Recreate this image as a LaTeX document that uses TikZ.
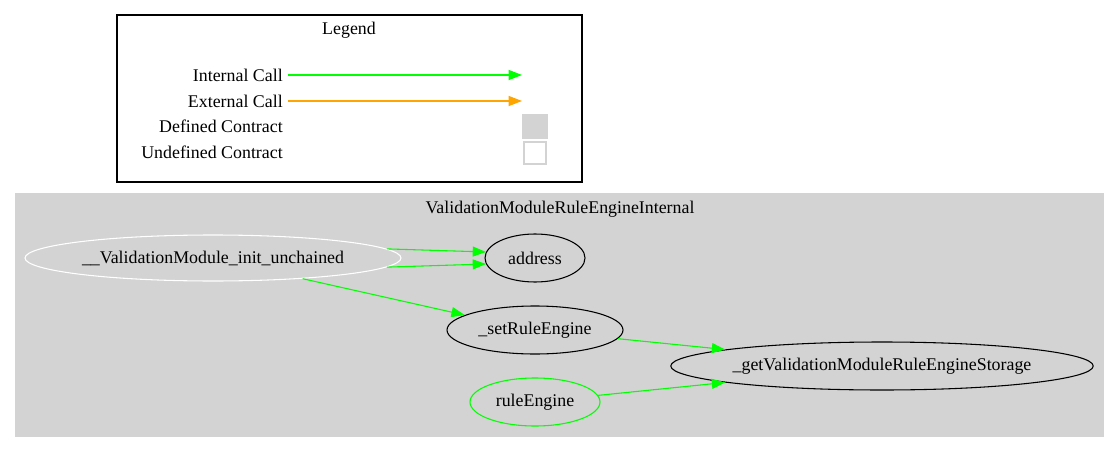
\documentclass[tikz,border=0pt]{standalone}
\usepackage{fontspec}
\setmainfont{Liberation Serif}
\usetikzlibrary{shapes.geometric,arrows.meta}
\definecolor{callgreen}{HTML}{00FF00}
\definecolor{callorange}{HTML}{FFA500}
\definecolor{clustergray}{HTML}{D3D3D3}
\begin{document}
\begin{tikzpicture}[x=0.75pt,y=-0.75pt,
  every node/.style={font=\fontsize{13.4}{16}\selectfont, inner sep=0pt},
  fn/.style={ellipse, draw=black, line width=0.8pt, minimum height=36pt},
  call/.style={draw=callgreen, line width=0.8pt, -{Triangle[length=10pt,width=7.5pt]}},
  ext/.style={draw=callorange, line width=0.8pt, -{Triangle[length=10pt,width=7.5pt]}},
  lbl/.style={anchor=east}
]
\useasboundingbox (0,0) rectangle (1120,453);
\fill[white] (0,0) rectangle (1120,453);
% Legend
\draw[black, line width=0.8pt] (117,15) rectangle (582,182);
\node (legtitle) at (349,30) {Legend};
\node[lbl] (lint) at (283,75) {Internal Call};
\node[lbl] (lext) at (283,101) {External Call};
\node[lbl] (ldef) at (283,126) {Defined Contract};
\node[lbl] (lund) at (283,152) {Undefined Contract};
\coordinate (ia) at (288,75);
\coordinate (ib) at (522,75);
\coordinate (ea) at (288,101);
\coordinate (eb) at (522,101);
\draw[call] (ia) -- (ib);
\draw[ext] (ea) -- (eb);
\node[fill=clustergray, minimum width=19.5pt, minimum height=19pt] (sqdef) at (535,126.5) {};
\node[fill=white, draw=clustergray, line width=0.8pt, minimum width=16.5pt, minimum height=16.5pt] (sqund) at (535,153) {};
% Cluster
\fill[clustergray] (15,193) rectangle (1104,437);
\node (ctitle) at (560,209) {ValidationModuleRuleEngineInternal};
\node[fn, draw=white, minimum width=282pt, minimum height=34.5pt] (init) at (213,258) {\_\_ValidationModule\_init\_unchained};
\node[fn, minimum width=75pt] (addr) at (535,258) {address};
\node[fn, minimum width=132pt] (set) at (535,330) {\_setRuleEngine};
\node[fn, draw=callgreen, minimum width=97.5pt] (rule) at (535,402) {ruleEngine};
\node[fn, minimum width=315pt] (get) at (882,366) {\_getValidationModuleRuleEngineStorage};
% Edges
\draw[call] (init.3) -- (addr.173);
\draw[call] (init.-3) -- (addr.187);
\draw[call] (init.-13) -- (set.168);
\draw[call] (set.-6) -- (get.174);
\draw[call] (rule.6) -- (get.186.3);
\end{tikzpicture}
\end{document}
